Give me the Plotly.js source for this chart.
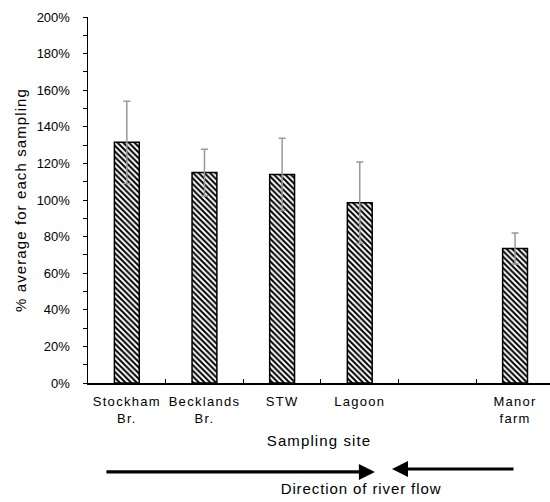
<!DOCTYPE html>
<html>
<head>
<meta charset="utf-8">
<script src="https://cdn.plot.ly/plotly-3.0.1.min.js"></script>
<style>
  html, body { margin: 0; padding: 0; background: #fff; }
  #chart { width: 550px; height: 502px; }
  /* wider letter spacing for the axis and note texts */
  #chart .xtick text { letter-spacing: 1.3px; }
  #chart .xtitle, #chart .ytitle { letter-spacing: 1.1px; }
  #chart .annotation-text { letter-spacing: 0.9px; }
</style>
</head>
<body>
<div id="chart"></div>
<script>
// Sampling sites along the river (blank slot keeps the gap before Manor farm)
const sites = ["Stockham<br>Br.", "Becklands<br>Br.", "STW", "Lagoon", " ", "Manor<br>farm"];
const barSites = ["Stockham<br>Br.", "Becklands<br>Br.", "STW", "Lagoon", "Manor<br>farm"];
// Mean value as % of the average for each sampling, with error (± SD)
const meanPct = [131.5, 115, 114, 98.5, 73.5];
const errPct = [22.5, 12.8, 19.7, 22.2, 8.5];

const font = "Liberation Sans, Arial, sans-serif";

const trace = {
  type: "bar",
  x: barSites,
  y: meanPct,
  width: 0.32,
  marker: {
    color: "white",
    line: { color: "#000", width: 1.5 },
    pattern: { shape: "\\", fgcolor: "#000", bgcolor: "#fff", size: 4, solidity: 0.5 }
  },
  error_y: { type: "data", array: errPct, visible: true, color: "#999", thickness: 1.5, width: 3.5 },
  hoverinfo: "x+y"
};

const layout = {
  width: 550,
  height: 502,
  margin: { l: 88, r: 0, t: 17, b: 119 },
  paper_bgcolor: "#fff",
  plot_bgcolor: "#fff",
  showlegend: false,
  font: { family: font, color: "#000", size: 12 },
  xaxis: {
    type: "category",
    categoryorder: "array",
    categoryarray: sites,
    range: [-0.5, 5.45],
    tickson: "boundaries",
    ticks: "inside",
    ticklen: 4,
    tickcolor: "#000",
    ticklabelstandoff: 6,
    showline: true,
    linecolor: "#000",
    linewidth: 1.5,
    showgrid: false,
    zeroline: false,
    tickfont: { family: font, size: 13, color: "#000" },
    title: { text: "Sampling site", font: { family: font, size: 15, color: "#000" }, standoff: 10 }
  },
  yaxis: {
    range: [0, 200],
    dtick: 20,
    ticksuffix: "%",
    ticks: "outside",
    ticklen: 4,
    tickcolor: "#000",
    ticklabelstandoff: 10,
    minor: { dtick: 10, ticks: "outside", ticklen: 4, tickcolor: "#000" },
    showline: true,
    linecolor: "#000",
    linewidth: 1.5,
    showgrid: false,
    zeroline: false,
    tickfont: { family: font, size: 13, color: "#000" },
    title: { text: "% average for each sampling", font: { family: font, size: 15, color: "#000" }, standoff: 6 }
  },
  annotations: [
    {
      xref: "paper", yref: "paper", x: 0.621, y: -0.243,
      ax: -270, ay: 0, showarrow: true, arrowhead: 2, arrowsize: 1, arrowwidth: 3.2, arrowcolor: "#000", text: ""
    },
    {
      xref: "paper", yref: "paper", x: 0.658, y: -0.235,
      ax: 123, ay: 0, showarrow: true, arrowhead: 2, arrowsize: 1, arrowwidth: 3.2, arrowcolor: "#000", text: ""
    },
    {
      xref: "paper", yref: "paper", x: 0.591, y: -0.287,
      xanchor: "center", yanchor: "middle", showarrow: false,
      text: "Direction of river flow", font: { family: font, size: 15, color: "#000" }
    }
  ]
};

Plotly.newPlot("chart", [trace], layout, { displayModeBar: false, staticPlot: true });
</script>
</body>
</html>
